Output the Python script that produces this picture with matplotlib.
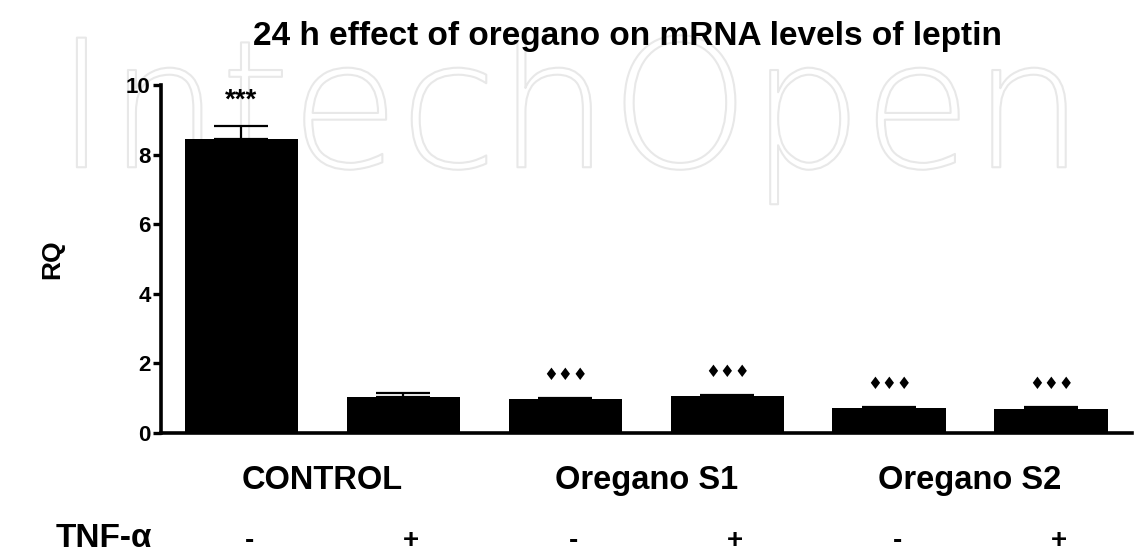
import matplotlib
matplotlib.use("Agg")
import matplotlib.pyplot as plt
import matplotlib.patheffects as pe
from matplotlib.transforms import offset_copy
import numpy as np

title = "24 h effect of oregano on mRNA levels of leptin"
groups = ["CONTROL", "Oregano S1", "Oregano S2"]
tnf = ["-", "+", "-", "+", "-", "+"]
means = [8.45, 1.03, 0.98, 1.07, 0.73, 0.68]
errs = [0.38, 0.11, 0.02, 0.02, 0.02, 0.06]
marks = ["***", "", "\u2666\u2666\u2666", "\u2666\u2666\u2666", "\u2666\u2666\u2666", "\u2666\u2666\u2666"]
yticks = [0, 2, 4, 6, 8, 10]

plt.rcParams['font.family'] = ['Liberation Sans', 'DejaVu Sans']
W, H = 1140, 557
fig = plt.figure(figsize=(W / 100, H / 100), dpi=100)

# faint watermark, behind everything
wm = fig.text(0.5, 1 - 118 / H, "IntechOpen", ha='center', va='center',
              fontsize=128, family=['DejaVu Sans'], fontweight='ultralight',
              color=(1, 1, 1, 0), zorder=-10)
wm.set_path_effects([pe.withStroke(linewidth=1.5, foreground='#e8e8e8')])

ax = fig.add_axes([160.5 / W, 1 - 433 / H, (1132 - 160.5) / W, (433 - 85) / H])
ax.patch.set_alpha(0)

x = np.arange(len(means))
ax.bar(x, means, width=0.7, color='black', zorder=3)
ax.errorbar(x, means, yerr=[np.zeros(len(errs)), errs], fmt='none',
            ecolor='black', elinewidth=1.6, capsize=19.5, capthick=1.6, zorder=2)

for xi, m, e, s in zip(x, means, errs, marks):
    if not s:
        continue
    if s == "***":
        ax.annotate(s, (xi, m + e), xytext=(0, 13), textcoords='offset points',
                    ha='center', va='baseline', fontsize=20, fontweight='bold')
    else:
        ax.annotate(s, (xi, m + e), xytext=(0, 10), textcoords='offset points',
                    ha='center', va='bottom', fontsize=12,
                    family=['DejaVu Sans'])

ax.set_xlim(-0.5, 5.5)
ax.set_ylim(0, 10)
ax.set_yticks(yticks)
ax.set_yticklabels([str(t) for t in yticks], fontsize=16, fontweight='bold')
ax.set_xticks([])
ax.tick_params(axis='y', direction='out', length=6, width=2.4, pad=1)
for side in ['top', 'right']:
    ax.spines[side].set_visible(False)
for side in ['left', 'bottom']:
    ax.spines[side].set_linewidth(2.6)

fig.text(52 / W, 1 - 259 / H, "RQ", rotation=90, ha='center', va='center',
         fontsize=19, fontweight='bold')
fig.text(253 / W, 1 - 45 / H, title, ha='left', va='baseline',
         fontsize=24, fontweight='bold')

xt = ax.get_xaxis_transform()
for gi, g in enumerate(groups):
    ax.text(2 * gi + 0.5, -(489 - 433) / (433 - 85), g, transform=xt,
            ha='center', va='baseline', fontsize=23.5, fontweight='bold')
for xi, t in zip(x, tnf):
    tr = offset_copy(xt, fig=fig, x=8, y=0, units='dots')
    ax.text(xi, -(541 - 433) / (433 - 85), t, transform=tr,
            ha='center', va='center', fontsize=20, fontweight='bold')
fig.text(104 / W, 1 - 547 / H, "TNF-\u03b1", ha='center', va='baseline',
         fontsize=24, fontweight='bold')

fig.savefig("out.png", dpi=100)
